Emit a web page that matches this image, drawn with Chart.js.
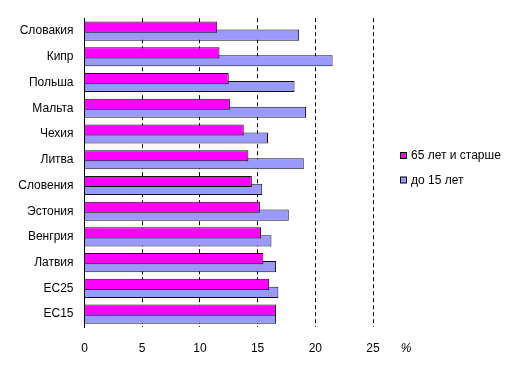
<!DOCTYPE html>
<html><head><meta charset="utf-8">
<script src="https://cdn.jsdelivr.net/npm/chart.js@4"></script>
<style>html,body{margin:0;padding:0;background:#fff}#wrap{width:511px;height:373px}</style>
</head><body><div id="wrap"><canvas id="c" width="511" height="373"></canvas></div>
<script>
const categories = ["Словакия","Кипр","Польша","Мальта","Чехия","Литва","Словения","Эстония","Венгрия","Латвия","ЕС25","ЕС15"];
const seriesNames = ["65 лет и старше","до 15 лет"];
const over65 = [11.5,11.7,12.5,12.6,13.8,14.2,14.5,15.2,15.3,15.5,16.0,16.6];
const under15 = [18.6,21.5,18.2,19.2,15.9,19.0,15.4,17.7,16.2,16.6,16.8,16.6];
const xTicks = [0,5,10,15,20,25];
const unitLabel = "%";

const FONT = "'Liberation Sans', Arial, sans-serif";

const extras = {
  id: 'extras',
  afterDraw(chart) {
    const ctx = chart.ctx, area = chart.chartArea;
    ctx.save();
    ctx.font = "italic 12px " + FONT;
    ctx.fillStyle = '#000';
    ctx.textAlign = 'center';
    ctx.textBaseline = 'middle';
    ctx.fillText(unitLabel, area.right + 33, area.bottom + 22);
    ctx.font = "12px " + FONT;
    ctx.textAlign = 'left';
    chart.data.datasets.forEach((ds, i) => {
      const y = 155.5 + i * 24.5;
      const x = 400.5;
      ctx.fillStyle = ds.backgroundColor;
      ctx.fillRect(x, y - 3, 6, 6);
      ctx.strokeStyle = '#000';
      ctx.lineWidth = 1;
      ctx.strokeRect(x, y - 3, 6, 6);
      ctx.fillStyle = '#000';
      ctx.fillText(ds.label, 411, y + 0.5);
    });
    ctx.restore();
  }
};

new Chart(document.getElementById('c'), {
  type: 'bar',
  data: {
    labels: categories,
    datasets: [
      { label: seriesNames[0], data: over65, backgroundColor: '#FF00FF', borderColor: '#111', borderWidth: 1, categoryPercentage: 0.62, barPercentage: 1.4 },
      { label: seriesNames[1], data: under15, backgroundColor: '#9999FF', borderColor: '#111', borderWidth: 1, categoryPercentage: 0.62, barPercentage: 1.4 }
    ]
  },
  options: {
    indexAxis: 'y',
    responsive: false,
    animation: false,
    devicePixelRatio: 1,
    layout: { padding: { left: 0, right: 138, top: 15, bottom: 0 } },
    plugins: { legend: { display: false }, tooltip: { enabled: false } },
    scales: {
      x: {
        min: 0, max: 25,
        afterBuildTicks(s) { s.ticks = xTicks.map(v => ({ value: v })); },
        afterFit(s) { s.height = 46; },
        border: { display: false, dash: [4, 3] },
        grid: {
          color: (c) => c.tick && c.tick.value === 0 ? 'rgba(0,0,0,0)' : '#000',
          lineWidth: 1,
          drawTicks: false
        },
        ticks: { font: { family: FONT, size: 12 }, color: '#000', padding: 14, maxRotation: 0 }
      },
      y: {
        afterFit(s) { s.width = 84.5; },
        border: { display: true, color: '#000', width: 1 },
        grid: { display: false, drawTicks: false },
        ticks: { font: { family: FONT, size: 12 }, color: '#000', padding: 11 }
      }
    }
  },
  plugins: [extras]
});
</script></body></html>
